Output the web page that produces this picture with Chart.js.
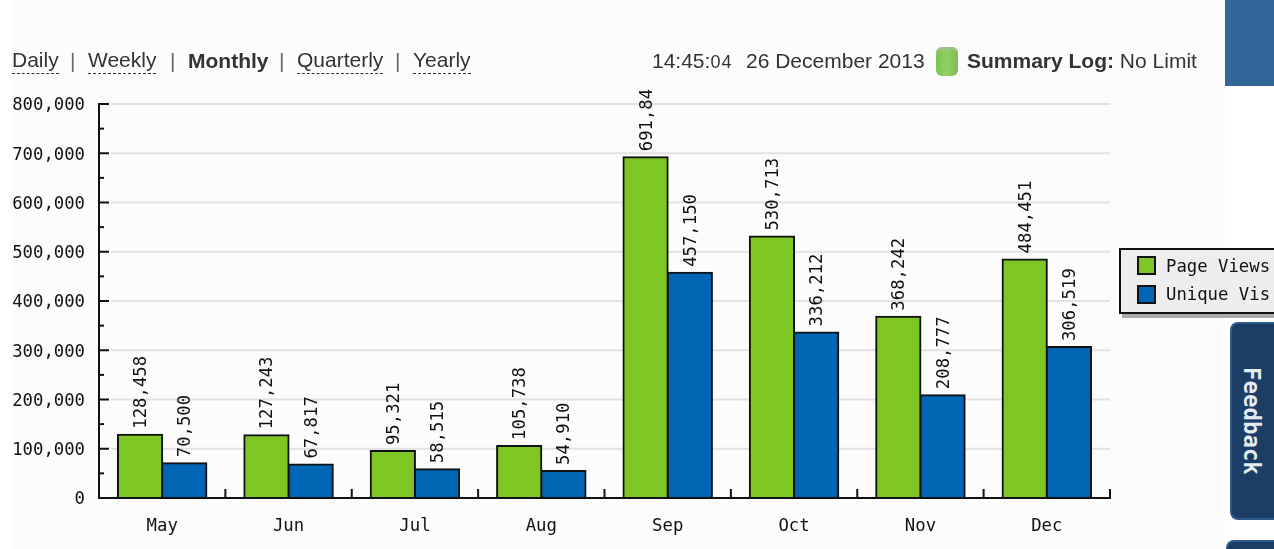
<!DOCTYPE html>
<html>
<head>
<meta charset="utf-8">
<title>Monthly summary</title>
<script src="https://cdn.jsdelivr.net/npm/chart.js@4"></script>
<style>
html, body { margin: 0; width: 1274px; height: 549px; overflow: hidden; background: #fff; }
#panel { position: absolute; left: 12px; top: 0; width: 1213px; height: 549px; background: #fcfcfc; }
#chart { position: absolute; left: 0; top: 0; }
.t { position: absolute; top: 47px; font: 21px/28px "Liberation Sans", Arial, sans-serif; color: #333; white-space: nowrap; }
.link { border-bottom: 1px dashed #333; line-height: 26px; }
.sep { color: #666; }
.small { font-size: 18px; letter-spacing: 1px; }
#cyl { position: absolute; left: 936px; top: 47px; width: 22px; height: 29px; border-radius: 6px; background: linear-gradient(90deg, #7fc152, #93d062 50%, #7db950); box-shadow: inset 0 3px 0 #9fbf8c; }
#corner { position: absolute; left: 1225px; top: 0; width: 49px; height: 86px; background: #336699; }
#legend { position: absolute; left: 1119px; top: 248px; width: 155px; height: 62px; border: 2px solid #111; border-right: 0; background: #eee; box-shadow: 3px 4px 0 #aaa; overflow: hidden; font: 17.3px/28px "DejaVu Sans Mono", monospace; color: #111; }
#legend div { position: absolute; left: 45px; width: 105px; overflow: hidden; white-space: nowrap; }
#legend i { position: absolute; left: 16px; width: 15px; height: 15px; border: 2px solid #111; }
.tab { position: absolute; background: #1c3d66; border: 2px solid #2f5a8a; border-right: 0; border-radius: 8px 0 0 8px; box-sizing: border-box; }
#feedback { left: 1230px; top: 322px; width: 44px; height: 198px; }
#feedback span { position: absolute; left: 32px; top: 43px; transform-origin: 0 0; transform: rotate(90deg); font: bold 22.4px/24px "DejaVu Sans Mono", monospace; color: #e4ebf3; white-space: nowrap; }
#tab2 { left: 1226px; top: 540px; width: 48px; height: 40px; }
</style>
</head>
<body>
<div id="panel"></div>
<canvas id="chart" width="1274" height="549" style="width:1274px;height:549px"></canvas>

<span class="t link" style="left:12px">Daily</span>
<span class="t sep" style="left:70px">|</span>
<span class="t link" style="left:88px">Weekly</span>
<span class="t sep" style="left:170px">|</span>
<span class="t" style="left:188px"><b>Monthly</b></span>
<span class="t sep" style="left:279px">|</span>
<span class="t link" style="left:297px">Quarterly</span>
<span class="t sep" style="left:395px">|</span>
<span class="t link" style="left:413px">Yearly</span>

<span class="t" style="left:652px">14:45:<span class="small">04</span></span>
<span class="t" style="left:746px">26 December 2013</span>
<div id="cyl"></div>
<span class="t" style="left:967px"><b>Summary Log:</b> No Limit</span>

<div id="corner"></div>
<div id="legend">
  <i style="top:6px;background:#7dc623"></i><div style="top:2px">Page Views</div>
  <i style="top:35px;background:#0066b3"></i><div style="top:30px">Unique Visitors</div>
</div>
<div id="feedback" class="tab"><span>Feedback</span></div>
<div id="tab2" class="tab"></div>

<script>
const months = ['May', 'Jun', 'Jul', 'Aug', 'Sep', 'Oct', 'Nov', 'Dec'];
const pageViews = [128458, 127243, 95321, 105738, 691840, 530713, 368242, 484451];
const uniqueVisitors = [70500, 67817, 58515, 54910, 457150, 336212, 208777, 306519];
// The Sep label is cut off at the top in the picture, so labels are kept as read
const pageViewLabels = ['128,458', '127,243', '95,321', '105,738', '691,84', '530,713', '368,242', '484,451'];
const uniqueVisitorLabels = ['70,500', '67,817', '58,515', '54,910', '457,150', '336,212', '208,777', '306,519'];

const monoFont = '"DejaVu Sans Mono", monospace';

// Gridlines, inside tick marks, y labels and rotated value labels
const chartMarks = {
    id: 'chartMarks',
    beforeDatasetsDraw(chart) {
        const { ctx, chartArea, scales } = chart;
        ctx.save();
        ctx.strokeStyle = '#e2e2e2';
        ctx.lineWidth = 2;
        scales.y.ticks.forEach(tick => {
            if (tick.value % 100000 !== 0 || tick.value === 0) return;
            const y = scales.y.getPixelForValue(tick.value);
            ctx.beginPath();
            ctx.moveTo(chartArea.left + 12, y);
            ctx.lineTo(chartArea.right, y);
            ctx.stroke();
        });
        ctx.restore();
    },
    afterDatasetsDraw(chart) {
        const { ctx, chartArea, scales } = chart;
        ctx.save();
        ctx.strokeStyle = '#111';
        ctx.fillStyle = '#111';
        ctx.lineWidth = 2;
        ctx.font = '17.3px ' + monoFont;
        scales.y.ticks.forEach(tick => {
            const y = scales.y.getPixelForValue(tick.value);
            const major = tick.value % 100000 === 0;
            ctx.beginPath();
            ctx.moveTo(chartArea.left, y);
            ctx.lineTo(chartArea.left + (major ? 10 : 5), y);
            ctx.stroke();
            if (major) {
                ctx.textAlign = 'right';
                ctx.textBaseline = 'middle';
                ctx.fillText(tick.value.toLocaleString('en-US'), 85, y + 2);
            }
        });
        const band = chartArea.width / months.length;
        months.forEach((m, i) => {
            const x = scales.x.getPixelForValue(i) + band / 2;
            ctx.beginPath();
            ctx.moveTo(x, chartArea.bottom);
            ctx.lineTo(x, chartArea.bottom - 9);
            ctx.stroke();
        });

        ctx.textAlign = 'left';
        ctx.textBaseline = 'middle';
        chart.data.datasets.forEach((ds, d) => {
            chart.getDatasetMeta(d).data.forEach((bar, i) => {
                ctx.save();
                ctx.translate(bar.x + 1.5, bar.y - 6);
                ctx.rotate(-Math.PI / 2);
                ctx.fillText(ds.valueLabels[i], 0, 0);
                ctx.restore();
            });
        });
        ctx.restore();
    }
};

let metricsChart = new Chart(document.getElementById('chart').getContext('2d'), {
    type: 'bar',
    data: {
        labels: months,
        datasets: [
            { label: 'Page Views', data: pageViews, valueLabels: pageViewLabels, backgroundColor: '#7dc623' },
            { label: 'Unique Visitors', data: uniqueVisitors, valueLabels: uniqueVisitorLabels, backgroundColor: '#0066b3' }
        ]
    },
    options: {
        responsive: false,
        animation: false,
        layout: { padding: { left: 0, right: 164, top: 104, bottom: 0 } },
        datasets: {
            bar: {
                categoryPercentage: 0.7,
                barPercentage: 1,
                borderColor: '#111',
                borderWidth: 2,
                borderSkipped: false,
                inflateAmount: 1
            }
        },
        plugins: { legend: { display: false }, tooltip: { enabled: false } },
        scales: {
            x: {
                grid: { display: false, drawTicks: false },
                border: { color: '#111', width: 2 },
                afterFit: scale => { scale.height = 51; },
                ticks: { color: '#111', padding: 18, maxRotation: 0, font: { family: monoFont, size: 17.3 } }
            },
            y: {
                min: 0,
                max: 800000,
                grid: { display: false, drawTicks: false },
                border: { color: '#111', width: 2 },
                afterFit: scale => { scale.width = 99; },
                ticks: {
                    stepSize: 50000,
                    autoSkip: false,
                    color: 'rgba(0,0,0,0)',
                    padding: 14,
                    font: { family: monoFont, size: 17.3 }
                }
            }
        }
    },
    plugins: [chartMarks]
});
</script>
</body>
</html>
